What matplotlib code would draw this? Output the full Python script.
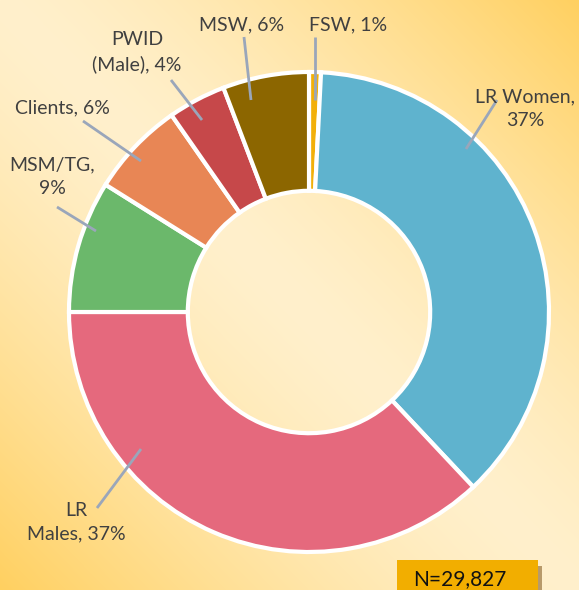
import numpy as np
import matplotlib
matplotlib.use('Agg')
import matplotlib.pyplot as plt
from matplotlib.colors import to_rgb
from matplotlib.patches import Rectangle

plt.rcParams['font.family'] = ['Lato', 'DejaVu Sans']

groups = ['FSW', 'LR Women', 'LR Males', 'MSM/TG', 'Clients', 'PWID (Male)', 'MSW']
shares = [0.8, 37.2, 37.0, 8.9, 6.4, 3.9, 5.8]
labels = ['FSW, 1%', 'LR Women,\n37%', 'LR\nMales, 37%', 'MSM/TG,\n9%',
          'Clients, 6%', 'PWID\n(Male), 4%', 'MSW, 6%']
colors = ['#F2B00A', '#5FB3CE', '#E5697D', '#6BB86B', '#E88655', '#C6484A', '#8C6600']
total_n = '29,827'

W, H = 579, 590
fig = plt.figure(figsize=(W / 100, H / 100), dpi=100)
ax = fig.add_axes([0, 0, 1, 1])

# background gradient (orange toward top-right / bottom-left)
yy, xx = np.mgrid[0:H, 0:W]
u = (xx - W / 2) / W
v = (yy - H / 2) / H
t = np.clip(np.abs(u - v), 0, 1) ** 1.4
c0 = np.array(to_rgb('#FFF0CC'))
c1 = np.array(to_rgb('#FFD060'))
img = c0 + (c1 - c0) * t[..., None]
ax.imshow(img, extent=[0, W, 0, H], origin='upper', zorder=0, aspect='auto')

cx, cy, R = 309, H - 312, 240
wedges, _ = ax.pie(shares, colors=colors, startangle=90, counterclock=False,
                   center=(cx, cy), radius=R, frame=True,
                   wedgeprops=dict(width=R * 0.495, edgecolor='white', linewidth=3))
for w in wedges:
    w.set_zorder(2)
ax.set_xlim(0, W)
ax.set_ylim(0, H)
ax.set_aspect('equal')
ax.axis('off')

# label positions (pixel, y down) and leader lines
label_pos = [(348, 25), (525, 109), (76, 522), (52, 177), (62, 108), (137, 52), (242, 25)]
leaders = [((315, 37), (315, 100)), ((497, 100), (466, 149)), ((97, 508), (141, 449)),
           ((57, 207), (96, 231)), ((83, 121), (141, 161)), ((171, 80), (202, 120)),
           ((244, 37), (251, 100))]
for lab, (lx, ly), ((x0, y0), (x1, y1)) in zip(labels, label_pos, leaders):
    ax.text(lx, H - ly, lab, ha='center', va='center', fontsize=14,
            color='#404040', linespacing=1.45, zorder=4)
    ax.plot([x0, x1], [H - y0, H - y1], color='#9AA6BA', lw=2, zorder=3,
            solid_capstyle='butt')

# N box with shadow
ax.add_patch(Rectangle((401, H - 594), 141, 28, facecolor='#B89A6A', zorder=4))
ax.add_patch(Rectangle((397, H - 590), 141, 30, facecolor='#F2AE00', zorder=5))
ax.text(460, H - 579, 'N=' + total_n, ha='center', va='center', fontsize=15,
        color='#111111', zorder=6)

fig.savefig('out.png', dpi=100)
